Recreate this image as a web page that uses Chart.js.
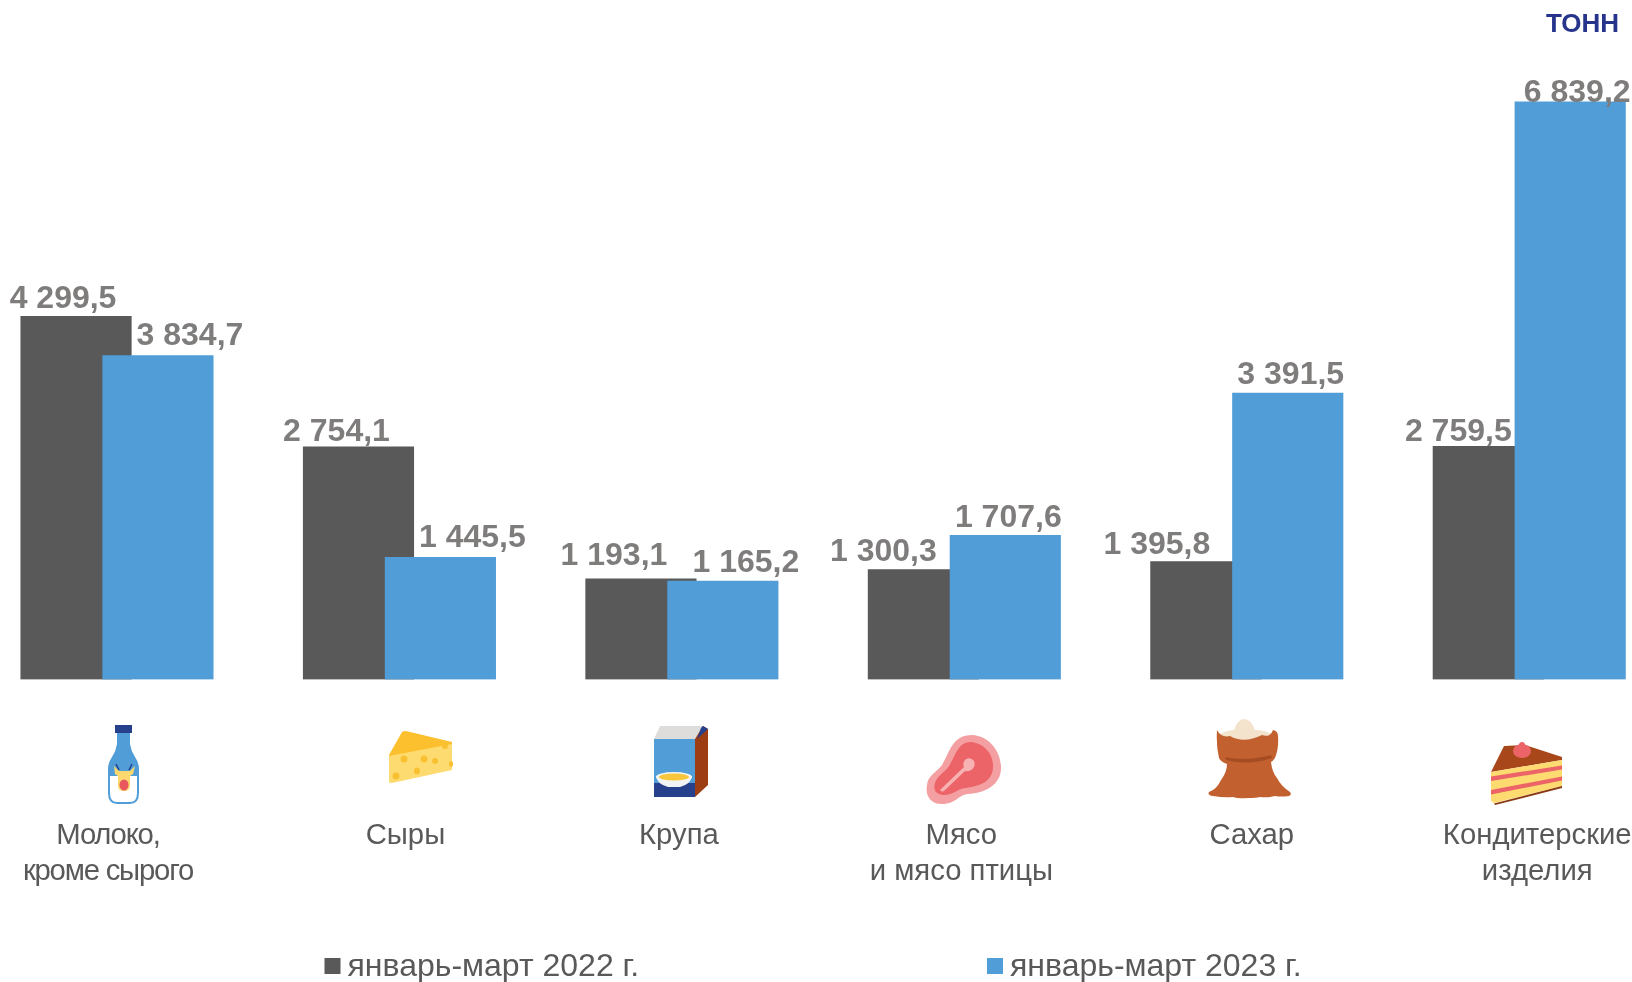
<!DOCTYPE html>
<html>
<head>
<meta charset="utf-8">
<title>Тонн</title>
<script src="https://cdn.jsdelivr.net/npm/chart.js@4"></script>
<style>
  html, body { margin: 0; padding: 0; background: #fff; overflow: hidden; }
  #wrap { position: relative; width: 1632px; height: 982px; }
  #wrap canvas, #icons { position: absolute; left: 0; top: 0; }
</style>
</head>
<body>
<div id="wrap">
  <canvas id="chart" width="1632" height="982"></canvas>
  <svg id="icons" width="1632" height="982">
    <!-- bottle -->
    <path d="M117 732h13v12q1 7 5 13q4 6 4 12v8h-31v-8q0-6 4-12q4-6 5-13z" fill="#519dd8"/>
    <rect x="115" y="725" width="17" height="8" fill="#27408b"/>
    <path d="M109 775h29v18q0 10-8 10h-13q-8 0-8-10z" fill="#fff" stroke="#519dd8" stroke-width="2"/>
    <path d="M114 766l5 5h11l5-5l-2 8l-3 2v10q0 5-6 5t-6-5v-10l-3-2z" fill="#fbd96f"/>
    <path d="M116 764l3 6M132 764l-3 6" stroke="#27408b" stroke-width="1.5"/>
    <ellipse cx="124" cy="785" rx="4.5" ry="5.5" fill="#e8585c"/>
    <!-- cheese -->
    <path d="M389 755L402 732q1-1 4-1L452 742V746L391 762z" fill="#fcc02e"/>
    <path d="M389 756L452 744V770L392 783q-3 0-3-2z" fill="#fedb70"/>
    <g fill="#f9c131">
      <ellipse cx="404" cy="759" rx="3.5" ry="3.5"/><ellipse cx="424" cy="759" rx="3.5" ry="3.5"/>
      <ellipse cx="435" cy="761" rx="3" ry="3"/><ellipse cx="417" cy="771" rx="3" ry="3.5"/>
      <ellipse cx="396" cy="776" rx="3.5" ry="3.5"/><ellipse cx="445" cy="746" rx="3" ry="3"/>
      <ellipse cx="451" cy="764" rx="2" ry="3"/>
    </g>
    <!-- cereal box -->
    <path d="M654 739L660 726H703L695 739z" fill="#dedddc"/>
    <path d="M695 739L703 726L708 729V785L695 797z" fill="#9c3d14"/>
    <path d="M701 728L703 726L708 729L697 739z" fill="#27408b"/>
    <rect x="654" y="739" width="41" height="44" fill="#519dd8"/>
    <rect x="654" y="783" width="41" height="14" fill="#27408b"/>
    <path d="M656 776h36q-1 8-12 11h-12q-11-3-12-11z" fill="#f2f3f4"/>
    <ellipse cx="674" cy="777" rx="18" ry="5" fill="#f5f5f0"/>
    <ellipse cx="674" cy="777" rx="15" ry="3.5" fill="#f8c63c"/>
    <!-- meat -->
    <path d="M972 735C990 736 1001 752 1001 768C1001 785 985 793 968 794C958 795 956 804 942 804C930 804 925 795 927 785C928 775 936 773 942 765C950 752 952 735 972 735z" fill="#f4a0a2"/>
    <path d="M972 742C985 744 994 755 993 768C992 781 981 786 966 788C956 789 954 795 944 795C935 795 933 789 935 783C937 776 944 773 949 766C956 755 958 741 972 742z" fill="#ec6468"/>
    <path d="M940 790L964 767q-2-5 2-8q5-2 8 2q2 6-3 9q-3 2-6 1L945 790q-3 3-5 0z" fill="#f7b3b4"/>
    <!-- sack -->
    <g transform="translate(-2 0)">
      <path d="M1222 734q8-4 14-4q4-11 10-11q7 0 11 11q10 0 19 5l-3 10h-48z" fill="#f3e3cc"/>
      <path d="M1219 730q4 8 13 6q14 8 32-1q8 3 11-5q5 1 5 6q1 12-3 22q-2 3-4 4q1 10 6 16q4 8 13 14q2 3-1 4q-8 1-14 0q-8 2-15 1q-4 1-12 1q-10 1-15-1q-8 1-20-1q-6-1-4-4q8-3 12-12q6-8 6-16q-6-2-8-6q-3-12-2-28z" fill="#c2612f"/>
      <path d="M1227 757q20 5 46-2l1 3q-24 8-46 2z" fill="#a64c22"/>
    </g>
    <!-- cake -->
    <path d="M1491 772L1504 746L1525 745L1562 757V760z" fill="#a8481a"/>
    <path d="M1491 772L1562 760V786L1494 803L1491 801z" fill="#fedb70"/>
    <path d="M1491 776.5L1562 765.5V769.5L1491 781zM1491 790L1562 776.5V780.5L1491 794.5z" fill="#ec6468"/>
    <path d="M1494 803.5L1562 786V788L1495 805z" fill="#8a3a12"/>
    <ellipse cx="1522" cy="751" rx="9" ry="7" fill="#ec6468"/>
    <circle cx="1522" cy="745" r="3" fill="#ec6468"/>
  </svg>
</div>
<script>
const categories = [['Молоко,', 'кроме сырого'], ['Сыры'], ['Крупа'], ['Мясо', 'и мясо птицы'], ['Сахар'], ['Кондитерские', 'изделия']];
const seriesNames = ['январь-март 2022 г.', 'январь-март 2023 г.'];
const values2022 = [4299.5, 2754.1, 1193.1, 1300.3, 1395.8, 2759.5];
const values2023 = [3834.7, 1445.5, 1165.2, 1707.6, 3391.5, 6839.2];
const unitLabel = 'ТОНН';

// layout, measured on the reference
const dark = '#595959';
const blue = '#519dd8';
const labelGrey = '#7f7c7c';
const barShift = 0.145;
const shift2022 = [-13, -22, -27, -40, -49, -30];
const shift2023 = [32, 32, 23, 3, 3, 7];
const lift2022 = [6, 4, 12, 7, 6, 3];
const lift2023 = [9, 8, 7, 6, 7, -2];
const catShift = [-9, 6, -3, -3, 5, 8];
const catSpacing = ['-1.2px', '0px', '0px', '0px', '0px', '0px'];
const legendX = [324.5, 987];

function fmt(v) {
  const parts = v.toFixed(1).split('.');
  return parts[0].replace(/\B(?=(\d{3})+$)/g, ' ') + ',' + parts[1];
}

const textPlugin = {
  id: 'textPlugin',
  afterDatasetsDraw(chart) {
    const ctx = chart.ctx;
    ctx.save();

    // value labels
    ctx.font = 'bold 32px "Liberation Sans"';
    ctx.fillStyle = labelGrey;
    ctx.textAlign = 'center';
    ctx.textBaseline = 'alphabetic';
    chart.getDatasetMeta(0).data.forEach((bar, i) => {
      ctx.fillText(fmt(values2022[i]), bar.x + shift2022[i], bar.y - lift2022[i] - 2);
    });
    chart.getDatasetMeta(1).data.forEach((bar, i) => {
      ctx.fillText(fmt(values2023[i]), bar.x + shift2023[i], bar.y - lift2023[i] - 2);
    });

    // category labels
    ctx.font = '29.3px "Liberation Sans"';
    ctx.fillStyle = dark;
    ctx.textBaseline = 'middle';
    categories.forEach((lines, i) => {
      const cx = chart.scales.x.getPixelForValue(i) + catShift[i];
      ctx.letterSpacing = catSpacing[i];
      lines.forEach((line, n) => ctx.fillText(line, cx, 836 + n * 36));
    });
    ctx.letterSpacing = '0px';

    // legend
    ctx.textAlign = 'left';
    ctx.font = '32px "Liberation Sans"';
    seriesNames.forEach((name, i) => {
      ctx.fillStyle = i === 0 ? dark : blue;
      ctx.fillRect(legendX[i], 958, 16, 16);
      ctx.fillStyle = dark;
      ctx.fillText(name, legendX[i] + 23, 967);
    });

    // unit
    ctx.textAlign = 'right';
    ctx.font = 'bold 26px "Liberation Sans"';
    ctx.fillStyle = '#27348b';
    ctx.fillText(unitLabel, 1619, 24.5);
    ctx.restore();
  }
};

new Chart(document.getElementById('chart'), {
  type: 'bar',
  data: {
    datasets: [
      {
        label: seriesNames[0],
        data: values2022.map((v, i) => ({ x: i - barShift, y: v })),
        backgroundColor: dark,
        order: 1
      },
      {
        label: seriesNames[1],
        data: values2023.map((v, i) => ({ x: i + barShift, y: v })),
        backgroundColor: blue,
        order: 0
      }
    ]
  },
  options: {
    responsive: false,
    animation: false,
    grouped: false,
    barThickness: 110.5,
    layout: { padding: { top: 0, left: 0, right: 0, bottom: 302.5 } },
    plugins: { legend: { display: false }, tooltip: { enabled: false } },
    scales: {
      x: { type: 'linear', display: false, offset: false, min: -0.4142, max: 5.3638 },
      y: { display: false, min: 0, max: 8046 }
    }
  },
  plugins: [textPlugin]
});
</script>
</body>
</html>
